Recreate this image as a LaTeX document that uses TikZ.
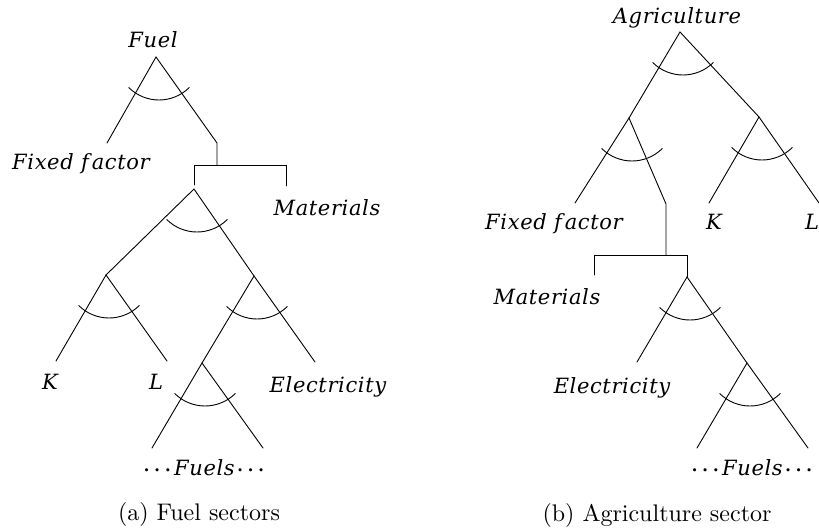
\documentclass[tikz,border=0pt]{standalone}
\usepackage{fontspec}
\newfontfamily\lblfont{DejaVu Serif}[LetterSpace=3]
\newfontfamily\capfont{lmroman10-regular}[Extension=.otf]
\tikzset{
  x=1pt, y=-1pt,
  tree/.style={line width=0.9pt, line cap=round},
  lbl/.style={anchor=base, inner sep=0pt, font=\lblfont\itshape\fontsize{21}{24}\selectfont},
  captxt/.style={anchor=base, inner sep=0pt, font=\capfont\fontsize{24}{28}\selectfont},
  sig/.style={line width=0.9pt}
}
\newcommand{\sigarc}[1]{\draw[sig] ([shift={(-27.4,30.4)}]#1) arc[start angle=225,end angle=315,radius=43pt];}
\newcommand{\ffac}{Fixed f\kern3pt actor}
\newcommand{\dotsfuels}{{\boldmath$\cdots$}\kern3pt Fuels\kern2pt{\boldmath$\cdots$}}
\begin{document}
\begin{tikzpicture}
\clip (0,0) rectangle (819,529);
\useasboundingbox (0,0) rectangle (819,529);
% ---------------- (a) Fuel sectors ----------------
\coordinate (fa) at (156,57);
\coordinate (ffend) at (107,143);
\coordinate (fr) at (217,143);
\coordinate (fj) at (217,165);
\coordinate (fjl) at (194,165);
\coordinate (fjr) at (286,165);
\coordinate (fmat) at (286,186);
\coordinate (fjd) at (194,185);
\coordinate (n2) at (194,189);
\coordinate (kl) at (106,275);
\coordinate (kend) at (56,361);
\coordinate (lend) at (167,361);
\coordinate (ef) at (254,276);
\coordinate (eend) at (315,362);
\coordinate (fu) at (202,363);
\coordinate (fuL) at (152,448);
\coordinate (fuR) at (263,448);

\node[lbl] (tFuel) at (153,48) {Fuel};
\node[lbl] (tFF) at (81,170) {\ffac};
\node[lbl] (tMat) at (327,216) {Materials};
\node[lbl] (tK) at (50,389) {K};
\node[lbl] (tL) at (156,389) {L};
\node[lbl] (tEl) at (328,392) {Electricity};
\node[lbl] (tFuels) at (204,475) {\dotsfuels};
\node[captxt] (capa) at (199,520) {(a) Fuel sectors};

\draw[tree] (ffend) -- (fa) -- (fr) -- (fj);
\draw[tree] (fjd) -- (fjl) -- (fjr) -- (fmat);
\draw[tree] (kl) -- (n2) -- (ef);
\draw[tree] (kend) -- (kl) -- (lend);
\draw[tree] (fu) -- (ef) -- (eend);
\draw[tree] (fuL) -- (fu) -- (fuR);
\sigarc{fa}
\sigarc{n2}
\sigarc{kl}
\sigarc{ef}
\sigarc{fu}

% ---------------- (b) Agriculture sector ----------------
\coordinate (ag) at (680,32);
\coordinate (al) at (629,118);
\coordinate (ar) at (759,117);
\coordinate (ffb) at (575,203);
\coordinate (alr) at (666,204);
\coordinate (aj) at (666,255);
\coordinate (ajl) at (594,255);
\coordinate (ajr) at (687,255);
\coordinate (amat) at (594,275);
\coordinate (bn) at (687,277);
\coordinate (bk) at (709,203);
\coordinate (bl) at (819,203);
\coordinate (bel) at (637,362);
\coordinate (bfu) at (747,363);
\coordinate (bfuL) at (697,448);
\coordinate (bfuR) at (808,448);

\node[lbl] (tAg) at (677,24) {Agriculture};
\node[lbl] (tFF2) at (554,230) {\ffac};
\node[lbl] (tK2) at (714,230) {K};
\node[lbl] (tL2) at (812,230) {L};
\node[lbl] (tMat2) at (547,305) {Materials};
\node[lbl] (tEl2) at (612,393) {Electricity};
\node[lbl] (tFuels2) at (752,475) {\dotsfuels};
\node[captxt] (capb) at (657,521) {(b) Agriculture sector};

\draw[tree] (al) -- (ag) -- (ar);
\draw[tree] (ffb) -- (al) -- (alr) -- (aj);
\draw[tree] (bk) -- (ar) -- (bl);
\draw[tree] (amat) -- (ajl) -- (ajr) -- (bn);
\draw[tree] (bel) -- (bn) -- (bfu) -- (bfuR);
\draw[tree] (bfuL) -- (bfu);
\sigarc{ag}
\sigarc{al}
\sigarc{ar}
\sigarc{bn}
\sigarc{bfu}
\end{tikzpicture}
\end{document}
